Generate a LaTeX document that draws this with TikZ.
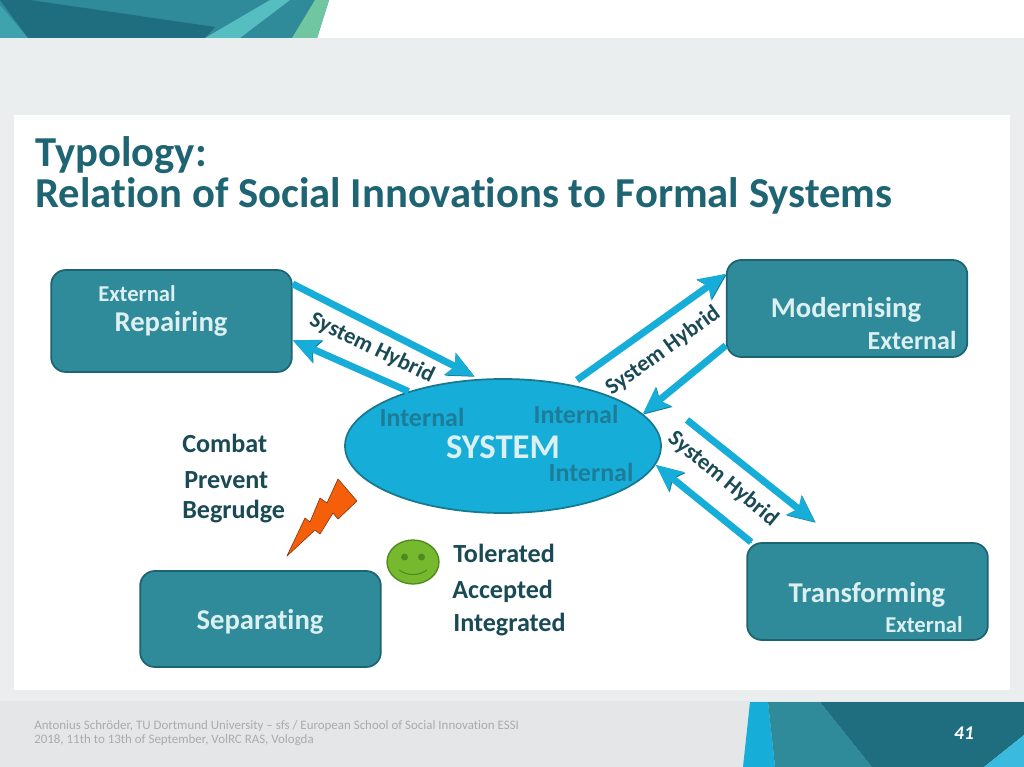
\documentclass[tikz,border=0pt]{standalone}
\usepackage{fontspec}
\setmainfont[Ligatures=NoCommon]{Carlito}
\usetikzlibrary{arrows.meta,shapes.geometric}
\definecolor{tealbox}{HTML}{2F8A9A}
\definecolor{tealedge}{HTML}{1D6472}
\definecolor{banddark}{HTML}{1F6E80}
\definecolor{cyanfill}{HTML}{16AED8}
\definecolor{cyanedge}{HTML}{17788F}
\definecolor{darktext}{HTML}{1A4A55}
\definecolor{titletext}{HTML}{1F6473}
\definecolor{innertext}{HTML}{1F7C98}
\definecolor{boxtext}{HTML}{DCEFF1}
\definecolor{paneback}{HTML}{EBEEEF}
\definecolor{footback}{HTML}{E4E6E7}
\definecolor{bandlight}{HTML}{3FA3AD}
\definecolor{bandstripe}{HTML}{56BDC0}
\definecolor{bandgreen}{HTML}{6FC6A0}
\definecolor{boltfill}{HTML}{F55F0A}
\definecolor{boltedge}{HTML}{8A3A10}
\definecolor{smilefill}{HTML}{76B82E}
\definecolor{smileedge}{HTML}{4F8A1E}
\tikzset{
	typebox/.style={draw=tealedge,fill=tealbox,line width=1.3pt,rounded corners=11pt,minimum width=180.5pt,minimum height=#1,inner sep=0pt},
	boxname/.style={text=boxtext,font=\fontsize{21.5}{24}\selectfont\bfseries},
	boxside/.style={text=boxtext,font=\fontsize{17}{20}\selectfont\bfseries},
	innername/.style={text=innertext,font=\fontsize{19.5}{22}\selectfont\bfseries},
	sidetext/.style={text=darktext,inner sep=0pt,font=\fontsize{19.6}{22}\selectfont\bfseries},
	hybridtext/.style={text=darktext,font=\fontsize{17}{20}\selectfont\bfseries},
	linkarrow/.style={draw=cyanfill,line width=5.2pt,-{Stealth[length=20pt,width=18pt,inset=4pt]},
		preaction={draw=cyanedge,transform canvas={xshift=0.6pt,yshift=-0.6pt}}}
}
\begin{document}
\begin{tikzpicture}[x=0.75pt,y=-0.75pt,line join=round]
	\useasboundingbox (0,0) rectangle (1024,767);
	% Page
	\fill[paneback] (0,38) rectangle (1024,701);
	\fill[footback] (0,701) rectangle (1024,767);
	\fill[white] (14,115) rectangle (1010,690);
	
	% Top band
	\fill[white] (0,0) rectangle (1024,38);
	\fill[tealbox] (0,0) -- (329,0) -- (317,38) -- (0,38) -- cycle;
	\fill[bandlight] (0,5) -- (28,38) -- (0,38) -- cycle;
	\fill[banddark] (0,0) -- (30,0) -- (215,27) -- (205,38) -- (28,38) -- cycle;
	\fill[bandstripe] (270,0) -- (290,0) -- (240,38) -- (205,38) -- cycle;
	\fill[bandgreen] (315,0) -- (329,0) -- (317,38) -- (292,38) -- cycle;
	
	% Footer band
	\fill[cyanfill] (750,702) -- (768,702) -- (775,767) -- (743,767) -- cycle;
	\fill[tealbox] (768,702) -- (820,702) -- (872,767) -- (775,767) -- cycle;
	\fill[banddark] (820,702) -- (1024,702) -- (1024,735) -- (984,767) -- (872,767) -- cycle;
	\fill[cyanfill!85!white] (1024,735) -- (984,767) -- (1024,767) -- cycle;
	\node (pagenum) at (964,733) {\color{white}\fontsize{14.5}{15}\selectfont\bfseries\itshape 41};
	\node[anchor=west,inner sep=0pt,align=left,text=black!33,font=\fontsize{9.7}{10.5}\selectfont] (footnote) at (34,733)
		{Antonius Schröder, TU Dortmund University -- sfs / European School of Social Innovation ESSI\\
		2018, 11th to 13th of September, VolRC RAS, Vologda};
	
	% Title
	\node[anchor=north west,inner sep=0pt,align=left,text=titletext,font=\fontsize{32}{30.75}\selectfont\bfseries] (title) at (35,136)
		{Typology:\\Relation of Social Innovations to Formal Systems};
	
	% Boxes
	\node[typebox=76.5pt] (repairing) at (171.5,321) {};
	\node[typebox=72.75pt] (modernising) at (847,308.5) {};
	\node[typebox=72.75pt] (transforming) at (867.5,591.5) {};
	\node[typebox=72pt] (separating) at (260.5,619) {};
	\node[draw=cyanedge,fill=cyanfill,line width=1.3pt,ellipse,minimum width=237pt,minimum height=100.5pt,inner sep=0pt] (system) at (503,446) {};
	
	% Box texts
	\node[boxside] (repext) at (137,294) {External};
	\node[boxname] (repname) at (171,324) {Repairing};
	\node[boxname] (modname) at (846,310) {Modernising};
	\node[boxside,font=\fontsize{19.5}{20}\selectfont\bfseries] (modext) at (912,340) {External};
	\node[boxname] (traname) at (867,595) {Transforming};
	\node[boxside] (traext) at (924,625) {External};
	\node[boxname] (sepname) at (260,622) {Separating};
	
	% System texts
	\node[innername] (intleft) at (422,417) {Internal};
	\node[innername] (intright) at (576,414) {Internal};
	\node[innername] (intlow) at (591,472) {Internal};
	\node[text=boxtext,font=\fontsize{26}{28}\selectfont\bfseries] (sysname) at (503,447) {SYSTEM};
	
	% Arrows
	\coordinate (arrowA) at (474,376);
	\coordinate (tailB) at (577,380);
	\coordinate (tailC) at (687,420);
	\coordinate (arrowC) at (815,522);
	\draw[linkarrow] (repairing.17.5) -- (arrowA);
	\draw[linkarrow] (system.150) -- (repairing.-9.3);
	\draw[linkarrow] (tailB) -- (modernising.164.2);
	\draw[linkarrow] (modernising.197.65) -- (system.13);
	\draw[linkarrow] (tailC) -- (arrowC);
	\draw[linkarrow] (transforming.157.6) -- (system.-7.3);
	
	% Arrow labels
	\node[hybridtext,rotate=-25.6] (hybridA) at (372,348) {System Hybrid};
	\node[hybridtext,rotate=36] (hybridB) at (663,351) {System Hybrid};
	\node[hybridtext,rotate=-39.4] (hybridC) at (723,479) {System Hybrid};
	
	% Side lists
	\node[sidetext,anchor=west] (combat) at (182,443) {Combat};
	\node[sidetext,anchor=west] (prevent) at (184,480) {Prevent};
	\node[sidetext,anchor=west] (begrudge) at (182,512) {Begrudge};
	\node[sidetext,anchor=west] (tolerated) at (453,553) {Tolerated};
	\node[sidetext,anchor=west] (accepted) at (452,591) {Accepted};
	\node[sidetext,anchor=west] (integrated) at (453,625) {Integrated};
	
	% Lightning
	\draw[fill=boltfill,draw=boltedge,line width=0.5pt]
		(287,556) -- (305,518) -- (310,522) -- (320,498) -- (327,503) -- (338,479) -- (357,501)
		-- (338,519) -- (333,513) -- (320,534) -- (315,530) -- cycle;
	
	% Smiley
	\begin{scope}[shift={(413,562)}]
		\draw[fill=smilefill,draw=smileedge,line width=1pt] (0,0) ellipse (19.5pt and 16.5pt);
		\fill[smileedge] (-8.5,-5) circle (2.6pt);
		\fill[smileedge] (8.5,-5) circle (2.6pt);
		\draw[smileedge,line width=0.8pt] (-14,8) .. controls (-6,14) and (6,14) .. (14,8);
	\end{scope}
\end{tikzpicture}
\end{document}
